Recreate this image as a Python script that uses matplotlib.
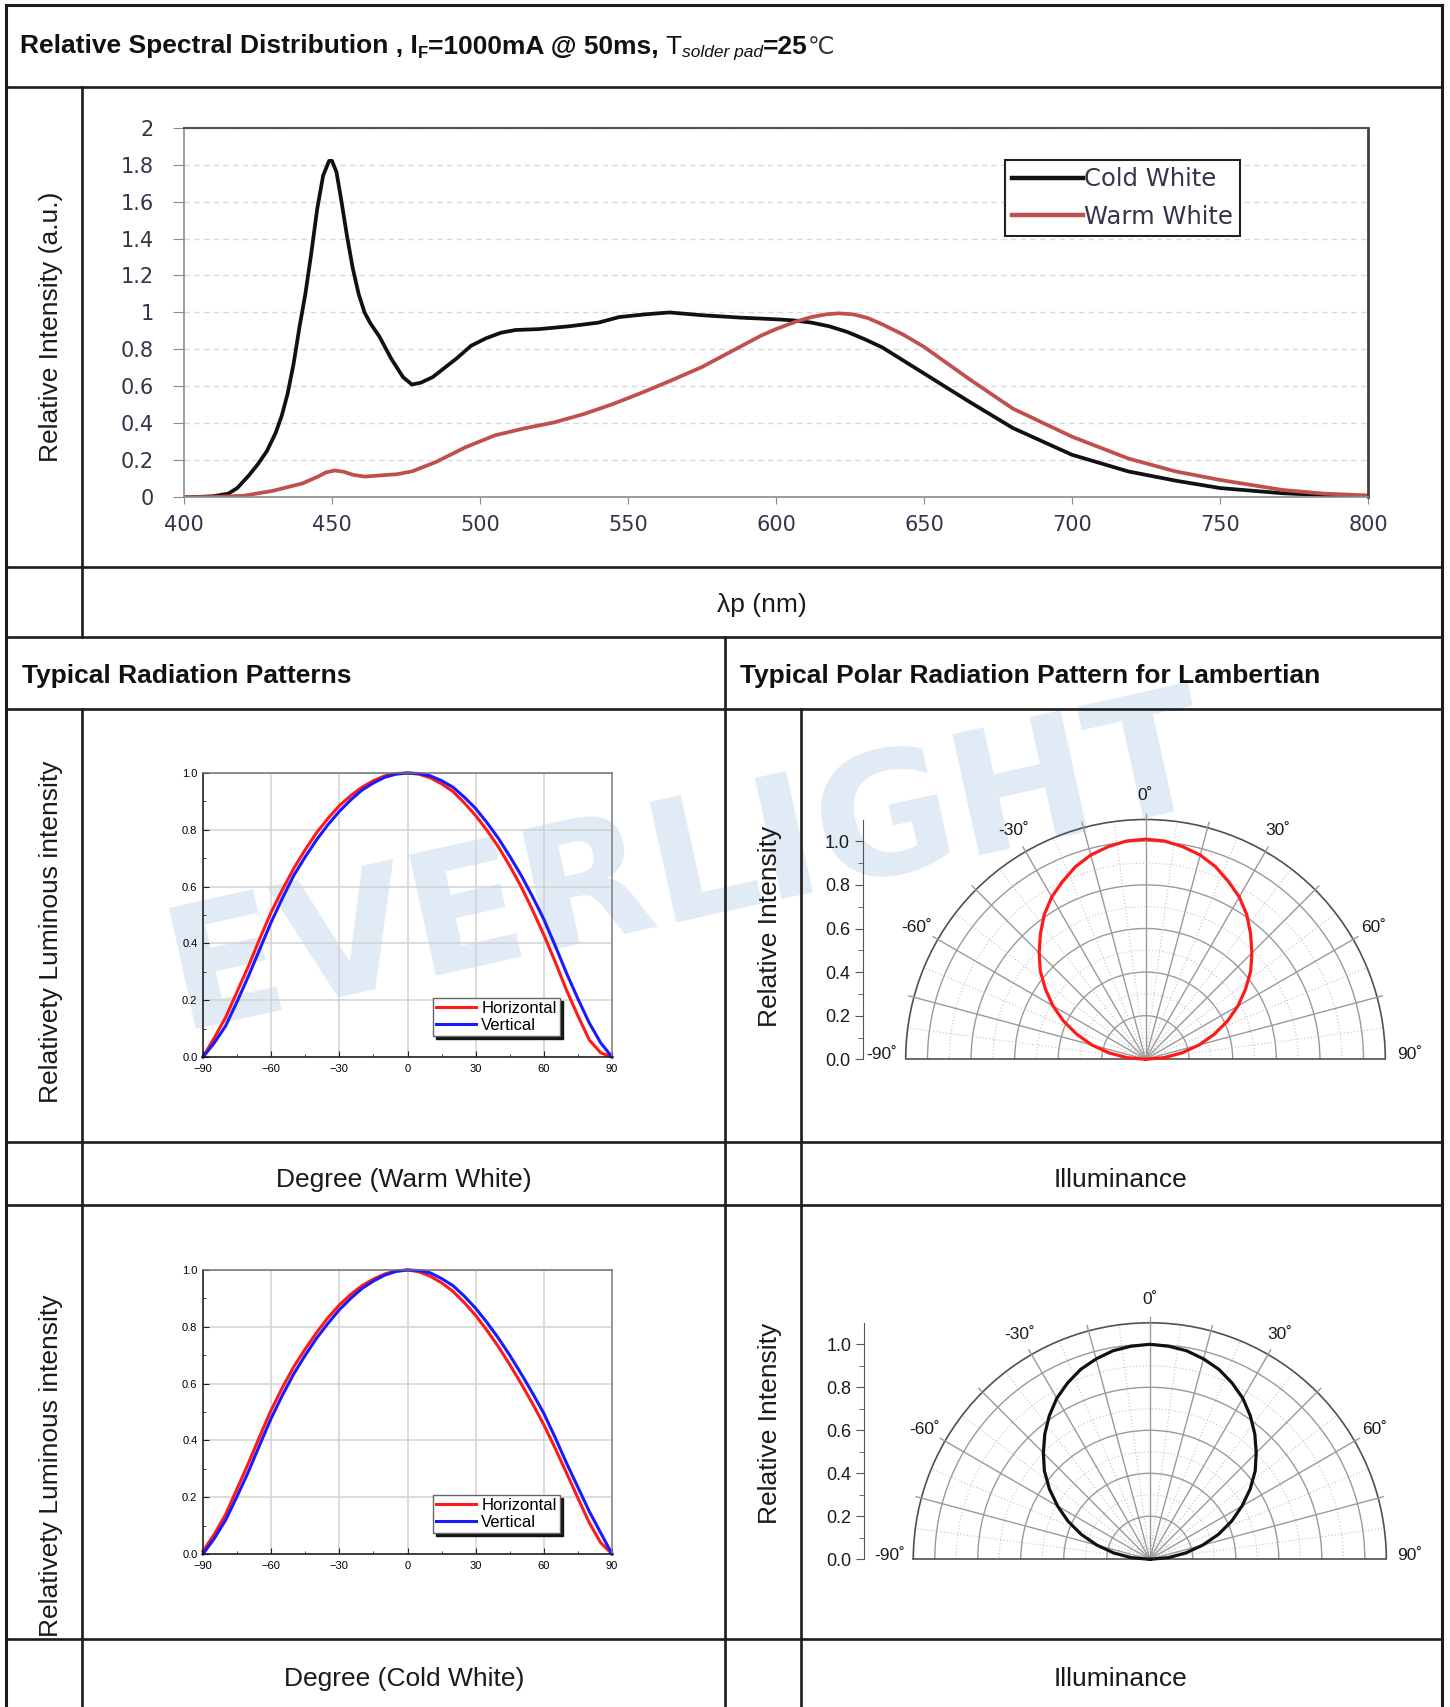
import numpy as np
import matplotlib.pyplot as plt
from matplotlib.patches import Arc
from matplotlib.ticker import MultipleLocator, FixedLocator, FuncFormatter, FormatStrFormatter

plt.rcParams['font.family'] = ['Liberation Sans', 'DejaVu Sans']

# ---- spectral distribution ----
cw_nm = [400, 405, 410, 415, 418, 422, 425, 428, 431, 433, 435, 437, 439, 441, 443, 445,
         447, 449, 450, 451.5, 453, 455, 457, 459, 461, 463, 466, 470, 474, 477, 480, 484,
         488, 492, 497, 502, 507, 512, 520, 530, 540, 547, 556, 564, 575, 588, 600, 606,
         612, 618, 624, 630, 636, 642, 650, 665, 680, 700, 719, 735, 750, 771, 785, 800]
cw_val = [0.0, 0.002, 0.006, 0.02, 0.05, 0.12, 0.18, 0.25, 0.35, 0.44, 0.56, 0.72, 0.92,
          1.1, 1.32, 1.56, 1.74, 1.82, 1.82, 1.76, 1.62, 1.42, 1.24, 1.1, 1.0, 0.94, 0.87,
          0.75, 0.65, 0.61, 0.62, 0.65, 0.7, 0.75, 0.82, 0.86, 0.89, 0.905, 0.91, 0.925,
          0.945, 0.975, 0.99, 1.0, 0.985, 0.972, 0.963, 0.957, 0.945, 0.925, 0.895, 0.855,
          0.81, 0.75, 0.67, 0.52, 0.375, 0.23, 0.14, 0.09, 0.05, 0.022, 0.012, 0.007]
ww_nm = [400, 410, 420, 430, 440, 445, 448, 451, 454, 457, 461, 466, 472, 477, 485, 495,
         505, 515, 525, 535, 545, 555, 565, 575, 585, 595, 600, 607, 612, 617, 621, 626,
         631, 636, 643, 650, 665, 680, 700, 719, 735, 750, 771, 785, 800]
ww_val = [0.0, 0.002, 0.008, 0.035, 0.075, 0.11, 0.135, 0.145, 0.138, 0.122, 0.112, 0.118,
          0.125, 0.14, 0.19, 0.27, 0.335, 0.373, 0.405, 0.45, 0.505, 0.568, 0.635, 0.705,
          0.79, 0.875, 0.91, 0.952, 0.975, 0.99, 0.995, 0.99, 0.97, 0.935, 0.88, 0.814,
          0.643, 0.48, 0.328, 0.21, 0.14, 0.094, 0.04, 0.02, 0.01]
wl_ticks = [400, 450, 500, 550, 600, 650, 700, 750, 800]

# ---- radiation patterns ----
deg = [-90, -85, -80, -75, -70, -65, -60, -55, -50, -45, -40, -35, -30, -25, -20, -15, -10, -5,
       0, 5, 10, 15, 20, 25, 30, 35, 40, 45, 50, 55, 60, 65, 70, 75, 80, 85, 90]
warm_h = [0.0, 0.068, 0.14, 0.23, 0.32, 0.417, 0.51, 0.59, 0.665, 0.73, 0.79, 0.84, 0.885, 0.92,
          0.95, 0.973, 0.99, 0.998, 1.0, 0.996, 0.983, 0.962, 0.935, 0.895, 0.85, 0.798, 0.74,
          0.673, 0.6, 0.518, 0.43, 0.335, 0.235, 0.145, 0.06, 0.015, 0.0]
warm_v = [0.0, 0.05, 0.11, 0.195, 0.285, 0.38, 0.475, 0.56, 0.64, 0.705, 0.765, 0.818, 0.865, 0.905,
          0.94, 0.965, 0.985, 0.996, 1.0, 0.998, 0.99, 0.973, 0.95, 0.915, 0.875, 0.825, 0.77,
          0.707, 0.64, 0.565, 0.485, 0.392, 0.295, 0.205, 0.12, 0.05, 0.0]
cold_h = [0.01, 0.07, 0.14, 0.23, 0.32, 0.415, 0.507, 0.587, 0.66, 0.722, 0.78, 0.832, 0.877, 0.914,
          0.945, 0.968, 0.986, 0.997, 1.0, 0.994, 0.978, 0.955, 0.925, 0.885, 0.84, 0.787, 0.73,
          0.667, 0.6, 0.53, 0.455, 0.372, 0.285, 0.197, 0.11, 0.04, 0.0]
cold_v = [0.0, 0.055, 0.12, 0.203, 0.29, 0.385, 0.478, 0.56, 0.635, 0.7, 0.76, 0.812, 0.86, 0.9,
          0.935, 0.961, 0.982, 0.995, 1.0, 0.998, 0.99, 0.97, 0.945, 0.908, 0.865, 0.815, 0.76,
          0.7, 0.635, 0.567, 0.495, 0.41, 0.32, 0.235, 0.15, 0.075, 0.0]

# ---- lambertian polar patterns ----
polar_deg = [-90, -85, -80, -75, -70, -65, -60, -55, -50, -45, -40, -35, -30, -25, -20, -15, -10, -5,
             0, 5, 10, 15, 20, 25, 30, 35, 40, 45, 50, 55, 60, 65, 70, 75, 80, 85, 90]
warm_polar = [0.0, 0.085, 0.17, 0.255, 0.335, 0.415, 0.49, 0.56, 0.63, 0.69, 0.75, 0.81, 0.86,
              0.9, 0.94, 0.97, 0.99, 1.005, 1.01, 1.005, 0.99, 0.97, 0.94, 0.9, 0.86, 0.81,
              0.75, 0.69, 0.63, 0.56, 0.49, 0.415, 0.335, 0.255, 0.17, 0.085, 0.0]
cold_polar = [0.0, 0.085, 0.17, 0.255, 0.34, 0.42, 0.495, 0.57, 0.64, 0.7, 0.76, 0.815, 0.865,
              0.905, 0.94, 0.965, 0.985, 0.995, 1.0, 0.995, 0.985, 0.965, 0.94, 0.905, 0.865,
              0.815, 0.76, 0.7, 0.64, 0.57, 0.495, 0.42, 0.34, 0.255, 0.17, 0.085, 0.0]

W, H = 1450, 1707
fig = plt.figure(figsize=(W / 100, H / 100), dpi=100)


def px_box(l, t, r, b):
    return [l / W, 1 - b / H, (r - l) / W, (b - t) / H]


# background layer in pixel coordinates: table rules, texts, watermark
bg = fig.add_axes([0, 0, 1, 1])
bg.set_xlim(0, W)
bg.set_ylim(H, 0)
bg.axis('off')

bg.text(688, 868, 'EVERLIGHT', rotation=12.5, rotation_mode='anchor', ha='center', va='center',
        fontsize=122, weight='bold', family=['DejaVu Sans'], color='#e0ebf5', zorder=0)

ink = '#1c1c1c'


def rule(x0, y0, x1, y1, lw=1.9):
    bg.plot([x0, x1], [y0, y1], color=ink, lw=lw, solid_capstyle='projecting', zorder=3)


rule(6.5, 4.5, 1442, 4.5, 2.2)
rule(6.5, 4.5, 6.5, H, 2.2)
rule(1442, 4.5, 1442, H, 2.2)
for y in [87, 567, 637, 709, 1142, 1205, 1639]:
    rule(6.5, y, 1442, y)
rule(82, 87, 82, 637)
rule(82, 709, 82, H)
rule(725, 637, 725, H)
rule(801, 709, 801, H)

# title built from pieces
renderer = fig.canvas.get_renderer()
pieces = [
    ('Relative Spectral Distribution , I', dict(fontsize=19, weight='bold'), 0),
    ('F', dict(fontsize=12, weight='bold'), 4),
    ('=1000mA @ 50ms, ', dict(fontsize=19, weight='bold'), 0),
    ('T', dict(fontsize=19), 0),
    ('solder pad', dict(fontsize=12.5, style='italic'), 4),
    ('=25', dict(fontsize=19, weight='bold'), 0),
    ('\u2103', dict(fontsize=17, family=['DejaVu Sans'], color='#333333'), 0),
]
x = 20
for s, kw, dy in pieces:
    kw.setdefault('color', '#111111')
    t = bg.text(x, 53.5 + dy, s, ha='left', va='baseline', **kw)
    x += t.get_window_extent(renderer=renderer).width

bg.text(22, 683, 'Typical Radiation Patterns', fontsize=19, weight='bold', color='#111111', va='baseline')
bg.text(740, 683, 'Typical Polar Radiation Pattern for Lambertian', fontsize=19, weight='bold',
        color='#111111', va='baseline')

lab = dict(fontsize=19, color='#1a1a1a')
bg.text(762, 612, '\u03bbp (nm)', ha='center', va='baseline', **lab)
bg.text(404, 1187, 'Degree (Warm White)', ha='center', va='baseline', **lab)
bg.text(1121, 1187, 'Illuminance', ha='center', va='baseline', **lab)
bg.text(404, 1686, 'Degree (Cold White)', ha='center', va='baseline', **lab)
bg.text(1121, 1686, 'Illuminance', ha='center', va='baseline', **lab)
bg.text(51, 327, 'Relative Intensity (a.u.)', rotation=90, ha='center', va='center', **lab)
bg.text(51, 932, 'Relativety Luminous intensity', rotation=90, ha='center', va='center', **lab)
bg.text(51, 1466, 'Relativety Luminous intensity', rotation=90, ha='center', va='center', **lab)
bg.text(770, 926, 'Relative Intensity', rotation=90, ha='center', va='center', **lab)
bg.text(770, 1423, 'Relative Intensity', rotation=90, ha='center', va='center', **lab)

# ---- spectral chart ----
ax1 = fig.add_axes(px_box(184, 127.6, 1368, 497.3))
ax1.plot(cw_nm, cw_val, color='#111111', lw=2.7, label='Cold White')
ax1.plot(ww_nm, ww_val, color='#c0504d', lw=2.7, label='Warm White')
ax1.set_xlim(400, 800)
ax1.set_ylim(0, 2)
ax1.set_xticks(wl_ticks)
ax1.set_yticks(np.arange(0, 2.01, 0.2))
ax1.yaxis.set_major_formatter(FuncFormatter(lambda v, p: f'{v:g}'))
ax1.grid(axis='y', color='#d9d9d9', ls=(0, (4, 3)), lw=1)
ax1.set_axisbelow(True)
for side, c, w in [('left', '#8c8c8c', 1.2), ('bottom', '#8c8c8c', 1.2),
                   ('top', '#505050', 1.5), ('right', '#404040', 2)]:
    ax1.spines[side].set_color(c)
    ax1.spines[side].set_linewidth(w)
ax1.tick_params(axis='y', length=8, color='#8c8c8c', pad=14)
ax1.tick_params(axis='x', length=5, color='#8c8c8c', pad=8)
for tl in ax1.get_xticklabels() + ax1.get_yticklabels():
    tl.set_family('DejaVu Sans')
    tl.set_fontsize(15)
    tl.set_color('#34344a')
leg = ax1.legend(loc='upper left', bbox_to_anchor=((1005 - 184) / 1184, (497.3 - 160) / 369.7),
                 prop={'family': 'DejaVu Sans', 'size': 17.5}, frameon=True, fancybox=False,
                 edgecolor='#222222', framealpha=1, borderpad=0.3, handlelength=2.9,
                 handletextpad=0.05, labelspacing=0.55, borderaxespad=0)
leg.get_frame().set_linewidth(1.5)
for tx in leg.get_texts():
    tx.set_color('#34344a')
for ln in leg.get_lines():
    ln.set_linewidth(3.2)


# ---- radiation pattern charts ----
def rad_panel(t, b, h_vals, v_vals):
    ax = fig.add_axes(px_box(203, t, 612, b))
    ax.patch.set_visible(False)
    ax.plot(deg, h_vals, color='#ff1a1a', lw=2.2, clip_on=False, label='Horizontal')
    ax.plot(deg, v_vals, color='#1a1aff', lw=2.2, clip_on=False, label='Vertical')
    ax.set_xlim(-90, 90)
    ax.set_ylim(0, 1)
    ax.xaxis.set_major_locator(MultipleLocator(30))
    ax.xaxis.set_minor_locator(MultipleLocator(15))
    ax.yaxis.set_major_locator(MultipleLocator(0.2))
    ax.yaxis.set_minor_locator(MultipleLocator(0.1))
    ax.yaxis.set_major_formatter(FormatStrFormatter('%.1f'))
    ax.grid(which='major', color='#d2d2d2', lw=1.1)
    ax.set_axisbelow(True)
    for side, c in [('left', '#111111'), ('bottom', '#111111'), ('top', '#707070'), ('right', '#808080')]:
        ax.spines[side].set_color(c)
        ax.spines[side].set_linewidth(1.1)
    ax.tick_params(which='both', direction='in', labelsize=8, color='#222222')
    ax.tick_params(axis='x', pad=5)
    ax.tick_params(axis='y', pad=4)
    ax.tick_params(which='major', length=4)
    ax.tick_params(which='minor', length=2.5)
    lg = ax.legend(loc='upper left', bbox_to_anchor=(0.562, 0.208), fontsize=12, frameon=True,
                   fancybox=False, edgecolor='#666666', framealpha=1,
                   shadow={'color': '#151515', 'alpha': 1}, borderpad=0.2, labelspacing=0.1,
                   handlelength=2.4, handletextpad=0.3, borderaxespad=0)
    lg.get_frame().set_linewidth(1)
    return ax


rad_panel(773, 1057, warm_h, warm_v)
rad_panel(1270, 1554, cold_h, cold_v)


# ---- lambertian polar charts ----
def polar_panel(cx, cy, s, axis_x, t, b, values, color):
    l, r = 840, 1440
    ax = fig.add_axes(px_box(l, t, r, b))
    ax.set_xlim((l - cx) / s, (r - cx) / s)
    ax.set_ylim((cy - b) / s, (cy - t) / s)
    ax.patch.set_visible(False)
    for side in ['top', 'right', 'bottom']:
        ax.spines[side].set_visible(False)
    ax.xaxis.set_visible(False)
    ax.spines['left'].set_position(('data', (axis_x - cx) / s))
    ax.spines['left'].set_bounds(0, 1.1)
    ax.spines['left'].set_color('#555555')
    ax.yaxis.set_major_locator(FixedLocator([0, 0.2, 0.4, 0.6, 0.8, 1.0]))
    ax.yaxis.set_minor_locator(FixedLocator([0.1, 0.3, 0.5, 0.7, 0.9]))
    ax.yaxis.set_major_formatter(FormatStrFormatter('%.1f'))
    ax.tick_params(axis='y', which='major', length=6, labelsize=13, pad=3, color='#555555',
                   labelcolor='#1a1a1a')
    ax.tick_params(axis='y', which='minor', length=3.5, color='#555555')

    for a in np.arange(-82.5, 83, 15):
        ra = np.deg2rad(a)
        ax.plot([0, 1.1 * np.sin(ra)], [0, 1.1 * np.cos(ra)], color='#c2c2c2', lw=0.8, ls=(0, (1, 2)))
    for rr in [0.1, 0.3, 0.5, 0.7, 0.9]:
        ax.add_patch(Arc((0, 0), 2 * rr, 2 * rr, theta1=0, theta2=180, color='#c2c2c2',
                         lw=0.8, ls=(0, (1, 2))))
    for rr in [0.2, 0.4, 0.6, 0.8, 1.0]:
        ax.add_patch(Arc((0, 0), 2 * rr, 2 * rr, theta1=0, theta2=180, color='#9a9a9a', lw=1))
    for a in np.arange(-75, 76, 15):
        ra = np.deg2rad(a)
        ax.plot([0, 1.125 * np.sin(ra)], [0, 1.125 * np.cos(ra)], color='#9a9a9a', lw=1)
    ax.add_patch(Arc((0, 0), 2.2, 2.2, theta1=0, theta2=180, color='#505050', lw=1.2))
    ax.plot([-1.1, 1.1], [0, 0], color='#505050', lw=1.2)

    th = np.deg2rad(polar_deg)
    v = np.asarray(values)
    ax.plot(v * np.sin(th), v * np.cos(th), color=color, lw=2.3)

    for a in [-90, -60, -30, 0, 30, 60, 90]:
        ra = np.deg2rad(a)
        ax.text(1.21 * np.sin(ra), 1.21 * np.cos(ra) + (0.02 if abs(a) == 90 else 0),
                f'{a}\u02da', ha='center', va='center', fontsize=12.5, color='#1a1a1a')
    return ax


polar_panel(1145.5, 1059.3, 218, 862.6, 770, 1075, warm_polar, '#ff1a1a')
polar_panel(1149.8, 1559.3, 215, 864, 1268, 1575, cold_polar, '#111111')

fig.savefig('out.png', dpi=100)
